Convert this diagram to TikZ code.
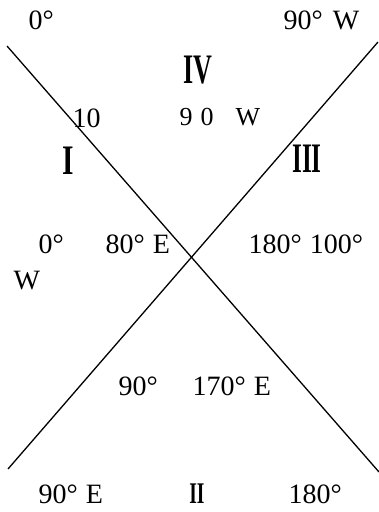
\documentclass[tikz,border=0pt]{standalone}
\usepackage{fontspec}
\setmainfont{Liberation Serif}
\usepackage{graphicx}
\begin{document}
\begin{tikzpicture}[x=1pt,y=-1pt,line width=1.3pt,
  lbl/.style={anchor=base west,inner sep=0pt,font=\fontsize{28}{28}\selectfont},
  small/.style={lbl,font=\fontsize{26}{26}\selectfont},
  quad/.style={inner sep=0pt,font=\fontsize{42}{42}\selectfont\bfseries}]
\useasboundingbox (0,0) rectangle (379,512);
% the two crossing lines
\coordinate (nw) at (7,46); \coordinate (se) at (379,472);
\coordinate (sw) at (8,469); \coordinate (ne) at (378,42);
\draw (nw) -- (se);
\draw (sw) -- (ne);
% quadrant numbers
\node[quad] (q1) at (68,161) {\scalebox{0.7}[1]{I}};
\node[quad,font=\fontsize{30}{30}\selectfont\bfseries] (q2) at (197,494) {\scalebox{0.65}[1]{II}};
\node[quad] (q3) at (307,159) {\scalebox{0.6}[1]{III}};
\node[quad] (q4) at (198,70) {\scalebox{0.62}[1]{IV}};
% degree labels
\node[lbl] (topl) at (28,29) {0°};
\node[lbl] (topr) at (283,29) {90°\hspace{10pt}W};
\node[lbl] (ten) at (72,127) {10};
\node[small] (nin) at (179,125) {9\hspace{8pt}0\hspace{22pt}W};
\node[lbl] (midl) at (38,253) {0°};
\node[lbl] (midc) at (105,253) {80°\hspace{8pt}E};
\node[lbl] (west) at (13,289) {W};
\node[lbl] (midr) at (248,253) {180°\hspace{8pt}100°};
\node[lbl] (lowl) at (118,395) {90°};
\node[lbl] (lowr) at (192,395) {170°\hspace{8pt}E};
\node[lbl] (botl) at (38,503) {90°\hspace{8pt}E};
\node[lbl] (botr) at (288,503) {180°};
\end{tikzpicture}
\end{document}
